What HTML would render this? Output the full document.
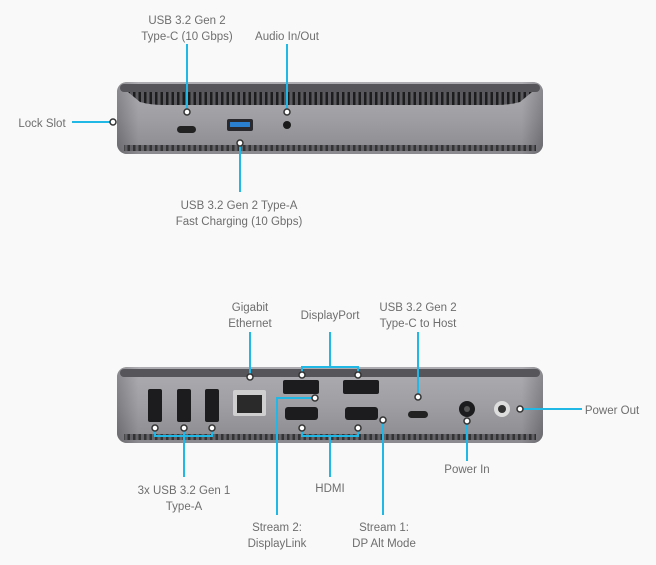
<!DOCTYPE html>
<html><head><meta charset="utf-8"><style>
html,body{margin:0;padding:0;background:#f9f9f9;}
svg{display:block}
text{font-family:"Liberation Sans",sans-serif;font-size:11.5px;fill:#6e6e6e;text-anchor:middle}
.l{stroke:#22b8e6;stroke-width:2;fill:none}
.d{fill:#fff;stroke:#333;stroke-width:1.5}
</style></head><body>
<svg width="656" height="565" viewBox="0 0 656 565">
<defs>
<linearGradient id="body" x1="0" y1="0" x2="0" y2="1">
<stop offset="0" stop-color="#b4b4b8"/><stop offset="0.5" stop-color="#9c9ca0"/><stop offset="1" stop-color="#7a7a7e"/></linearGradient>
<linearGradient id="side" x1="0" y1="0" x2="1" y2="0">
<stop offset="0" stop-color="#505054"/><stop offset="0.05" stop-color="#a4a4a8"/><stop offset="0.95" stop-color="#a4a4a8"/><stop offset="1" stop-color="#505054"/></linearGradient>
<pattern id="vp" width="5.5" height="20" patternUnits="userSpaceOnUse"><rect width="5.5" height="20" fill="#5a5a5e"/><rect x="1" width="2.5" height="20" fill="#1d1d1f"/></pattern>
</defs>

<!-- TOP DEVICE -->
<rect x="117" y="82" width="426" height="72" rx="10" fill="url(#side)"/>
<rect x="117" y="82" width="426" height="72" rx="10" fill="url(#body)" opacity="0.6"/>
<rect x="120" y="84" width="420" height="8" rx="4" fill="#55555a"/>
<path d="M128 92 H532 L520 102 Q510 105 495 105 H165 Q150 105 140 102 Z" fill="url(#vp)"/>
<rect x="124" y="145" width="412" height="6" fill="url(#vp)" opacity="0.8"/>
<rect x="177" y="126" width="19" height="7" rx="3.5" fill="#222"/>
<rect x="227" y="119" width="26" height="12" rx="2" fill="#2a2a2e"/>
<rect x="230" y="122" width="20" height="5" fill="#2a7fd0"/>
<circle cx="287" cy="125" r="4" fill="#1a1a1a"/>

<!-- BOTTOM DEVICE -->
<rect x="117" y="367" width="426" height="76" rx="10" fill="url(#side)"/>
<rect x="117" y="367" width="426" height="76" rx="10" fill="url(#body)" opacity="0.6"/>
<rect x="120" y="369" width="420" height="8" rx="4" fill="#55555a"/>
<rect x="124" y="434" width="412" height="6" fill="url(#vp)" opacity="0.8"/>
<rect x="148" y="389" width="14" height="33" rx="2" fill="#1c1c1e"/>
<rect x="177" y="389" width="14" height="33" rx="2" fill="#1c1c1e"/>
<rect x="205" y="389" width="14" height="33" rx="2" fill="#1c1c1e"/>
<rect x="233" y="390" width="33" height="26" rx="2" fill="#cfcfcf"/>
<rect x="237" y="395" width="25" height="18" fill="#2a2a2a"/>
<rect x="283" y="380" width="36" height="14" rx="2" fill="#1c1c1e"/>
<rect x="343" y="380" width="36" height="14" rx="2" fill="#1c1c1e"/>
<rect x="285" y="407" width="33" height="13" rx="3" fill="#1c1c1e"/>
<rect x="345" y="407" width="33" height="13" rx="3" fill="#1c1c1e"/>
<rect x="408" y="411" width="20" height="7" rx="3.5" fill="#222"/>
<circle cx="467" cy="409" r="8" fill="#1c1c1e"/><circle cx="467" cy="409" r="3" fill="#555"/>
<circle cx="502" cy="409" r="8" fill="#ddd"/><circle cx="502" cy="409" r="4" fill="#333"/>

<!-- TOP CALLOUTS -->
<path class="l" d="M187 44 V112 M287 44 V112 M113 122 H72 M240 143 V192"/>
<circle class="d" cx="187" cy="112" r="3"/><circle class="d" cx="287" cy="112" r="3"/>
<circle class="d" cx="113" cy="122" r="3"/><circle class="d" cx="240" cy="143" r="3"/>
<text x="187" y="24">USB 3.2 Gen 2</text>
<text x="187" y="40">Type-C (10 Gbps)</text>
<text x="287" y="40">Audio In/Out</text>
<text x="42" y="127">Lock Slot</text>
<text x="239" y="209">USB 3.2 Gen 2 Type-A</text>
<text x="239" y="225">Fast Charging (10 Gbps)</text>

<!-- BOTTOM CALLOUTS -->
<path class="l" d="M250 332 V377 M302 375 V367 H358 V375 M330 367 V332 M418 332 V397
M315 398 H277 V515 M155 428 V436 H212 V428 M184 428 V436 M184 436 V477
M302 428 V436 H358 V428 M330 436 V477 M383 420 V515 M467 421 V461 M520 409 H582"/>
<circle class="d" cx="250" cy="377" r="3"/><circle class="d" cx="302" cy="375" r="3"/>
<circle class="d" cx="358" cy="375" r="3"/><circle class="d" cx="418" cy="397" r="3"/>
<circle class="d" cx="315" cy="398" r="3"/><circle class="d" cx="155" cy="428" r="3"/>
<circle class="d" cx="184" cy="428" r="3"/><circle class="d" cx="212" cy="428" r="3"/>
<circle class="d" cx="302" cy="428" r="3"/><circle class="d" cx="358" cy="428" r="3"/>
<circle class="d" cx="383" cy="420" r="3"/><circle class="d" cx="467" cy="421" r="3"/>
<circle class="d" cx="520" cy="409" r="3"/>
<text x="250" y="311">Gigabit</text>
<text x="250" y="327">Ethernet</text>
<text x="330" y="319">DisplayPort</text>
<text x="418" y="311">USB 3.2 Gen 2</text>
<text x="418" y="327">Type-C to Host</text>
<text x="184" y="494">3x USB 3.2 Gen 1</text>
<text x="184" y="510">Type-A</text>
<text x="330" y="492">HDMI</text>
<text x="277" y="531">Stream 2:</text>
<text x="277" y="547">DisplayLink</text>
<text x="384" y="531">Stream 1:</text>
<text x="384" y="547">DP Alt Mode</text>
<text x="467" y="473">Power In</text>
<text x="612" y="414">Power Out</text>
</svg>
</body></html>
